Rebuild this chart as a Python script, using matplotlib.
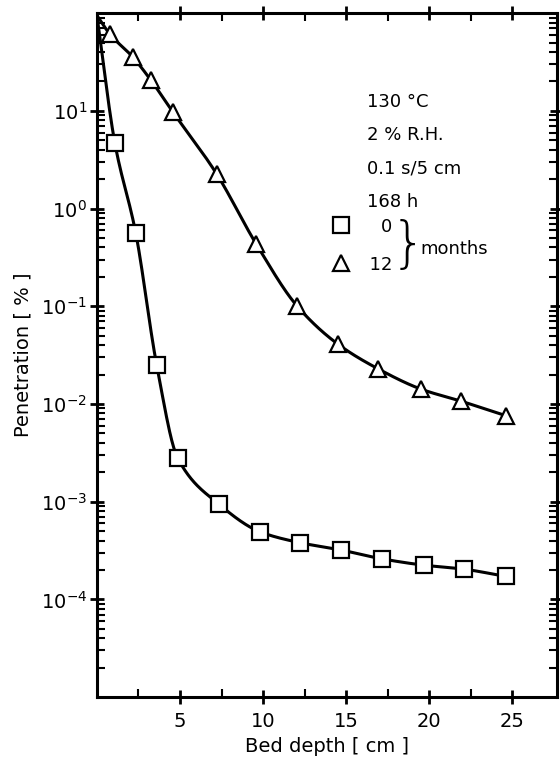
import numpy as np
import matplotlib
matplotlib.use("Agg")
import matplotlib.pyplot as plt
from matplotlib.lines import Line2D
from matplotlib.ticker import LogLocator, FixedLocator, NullFormatter

plt.rcParams['font.family'] = ['DejaVu Sans']
plt.rcParams['mathtext.fontset'] = 'dejavusans'

# bed depth [cm] and penetration [%]
depth_0m = [1.08, 2.34, 3.6, 4.86, 7.32, 9.84, 12.24, 14.7, 17.16, 19.68, 22.08, 24.6]
pen_0m = [4.7, 0.56, 0.025, 0.0028, 0.00095, 0.00049, 0.00038, 0.00032,
          0.00026, 0.000224, 0.000204, 0.000172]
depth_12m = [0.78, 2.16, 3.24, 4.56, 7.2, 9.6, 12.06, 14.5, 16.9, 19.5, 21.9, 24.6]
pen_12m = [61, 35.5, 20.7, 9.8, 2.27, 0.43, 0.1, 0.041, 0.023, 0.0142, 0.0107, 0.0076]
# both curves leave the top-left corner
start_depth = 0.0
start_pen = 95.0

notes = ["130 °C", "2 % R.H.", "0.1 s/5 cm", "168 h"]
x_ticklabels = ["5", "10", "15", "20", "25"]


def pchip(x, y, xn):
    x = np.asarray(x, float)
    y = np.asarray(y, float)
    h = np.diff(x)
    d = np.diff(y) / h
    m = np.zeros_like(y)
    m[0], m[-1] = d[0], d[-1]
    for k in range(1, len(x) - 1):
        if d[k - 1] * d[k] > 0:
            w1 = 2 * h[k] + h[k - 1]
            w2 = h[k] + 2 * h[k - 1]
            m[k] = (w1 + w2) / (w1 / d[k - 1] + w2 / d[k])
    i = np.clip(np.searchsorted(x, xn) - 1, 0, len(x) - 2)
    t = (xn - x[i]) / h[i]
    h00 = 2 * t**3 - 3 * t**2 + 1
    h10 = t**3 - 2 * t**2 + t
    h01 = -2 * t**3 + 3 * t**2
    h11 = t**3 - t**2
    return h00 * y[i] + h10 * h[i] * m[i] + h01 * y[i + 1] + h11 * h[i] * m[i + 1]


def smooth_curve(xs, ys):
    cx = np.r_[start_depth, xs]
    cy = np.log10(np.r_[start_pen, ys])
    xn = np.linspace(cx[0], cx[-1], 400)
    return xn, 10 ** pchip(cx, cy, xn)


fig = plt.figure(figsize=(5.6, 7.72), dpi=100)
ax = fig.add_axes([0.173, 0.097, 0.822, 0.886])

for xs, ys, mk in [(depth_0m, pen_0m, 's'), (depth_12m, pen_12m, '^')]:
    cx, cy = smooth_curve(xs, ys)
    ax.plot(cx, cy, color='black', lw=2.2, zorder=2)
    ax.plot(xs, ys, ls='none', marker=mk, ms=11 if mk == 's' else 12,
            mfc='white', mec='black', mew=1.6, zorder=3)

ax.set_yscale('log')
ax.set_xlim(0, 27.7)
ax.set_ylim(1e-5, 1e2)

for s in ax.spines.values():
    s.set_linewidth(2.2)

ax.xaxis.set_major_locator(FixedLocator([5, 10, 15, 20, 25]))
ax.xaxis.set_minor_locator(FixedLocator([2.5, 7.5, 12.5, 17.5, 22.5]))
ax.set_xticklabels(x_ticklabels)
ax.yaxis.set_major_locator(LogLocator(base=10, numticks=20))
ax.yaxis.set_minor_locator(LogLocator(base=10, subs=np.arange(2, 10), numticks=20))
ax.yaxis.set_minor_formatter(NullFormatter())
ax.set_yticks([1e-4, 1e-3, 1e-2, 1e-1, 1e0, 1e1])
ax.set_yticklabels([r'$10^{-4}$', r'$10^{-3}$', r'$10^{-2}$', r'$10^{-1}$',
                    r'$10^{0}$', r'$10^{1}$'])

ax.tick_params(axis='both', which='major', direction='inout', length=10, width=2,
               top=True, right=True, labelsize=14, pad=6)
ax.tick_params(axis='both', which='minor', direction='in', length=6, width=1.5,
               top=True, right=True)
ax.tick_params(axis='y', which='major', pad=2)

ax.set_xlabel("Bed depth [ cm ]", fontsize=14, labelpad=4)
ax.set_ylabel("Penetration [ % ]", fontsize=14, labelpad=6)

for i, t in enumerate(notes):
    ax.text(0.587, 0.870 - i * 0.0487, t, transform=ax.transAxes, fontsize=13,
            va='center', ha='left')

handles = [Line2D([], [], ls='none', marker='s', ms=11, mfc='white', mec='black', mew=1.6),
           Line2D([], [], ls='none', marker='^', ms=12, mfc='white', mec='black', mew=1.6)]
ax.legend(handles, ["\u2007\u20070", "\u200712"], loc='upper left',
          bbox_to_anchor=(0.488, 0.714), frameon=False, fontsize=13,
          handletextpad=0.3, handlelength=1.2, labelspacing=1.1, borderpad=0)
ax.text(0.638, 0.659, "}", transform=ax.transAxes, fontsize=40,
        va='center', ha='left', fontweight='light')
ax.text(0.703, 0.655, "months", transform=ax.transAxes, fontsize=13,
        va='center', ha='left')

fig.savefig("out.png", dpi=100)
